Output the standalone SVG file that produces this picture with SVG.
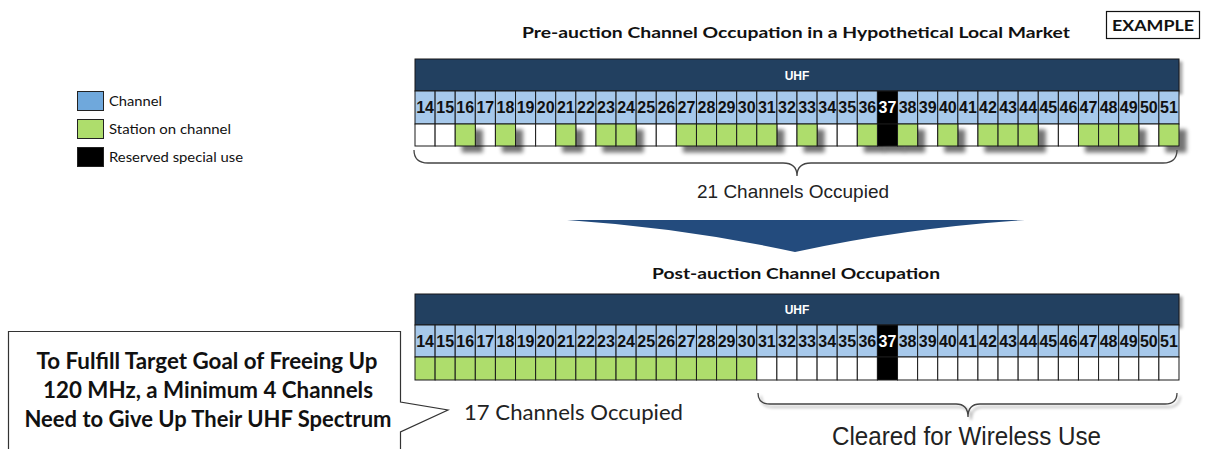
<svg xmlns="http://www.w3.org/2000/svg" width="1205" height="449" viewBox="0 0 1205 449">
<style>
.hdr{fill:#243F60;stroke:#1a1a1a;stroke-width:1}
.num{fill:#A7C9EB;stroke:#1a1a1a;stroke-width:1}
.blk{fill:#000;stroke:#1a1a1a;stroke-width:1}
.wht{fill:#fff;stroke:#1a1a1a;stroke-width:1}
.grn{fill:#AEDD6C;stroke:#1a1a1a;stroke-width:1}
.n{font-family:"Liberation Sans",Arial,sans-serif;font-weight:bold;font-size:16px;fill:#111;text-anchor:middle}
.nw{fill:#fff}
.uhf{font-family:"Liberation Sans",Arial,sans-serif;font-weight:bold;font-size:12px;fill:#fff;text-anchor:middle}
.ttl{font-family:Lato,"Liberation Sans",sans-serif;font-weight:bold;font-size:16px;fill:#111}
.co{font-family:Lato,"Liberation Sans",sans-serif;font-weight:bold;font-size:23px;fill:#111;text-anchor:middle}
.lg{font-family:Lato,"Liberation Sans",sans-serif;font-size:13px;fill:#111}
.brace{fill:none;stroke:#444;stroke-width:1.3}
.cap{font-family:"Liberation Sans",Arial,sans-serif;fill:#222}
.capc{font-family:Lato,"Liberation Sans",sans-serif;fill:#222}
</style>
<defs>
<filter id="sh" x="-50%" y="-50%" width="250%" height="250%">
<feGaussianBlur in="SourceAlpha" stdDeviation="2"/>
<feOffset dx="7" dy="6" result="o"/>
<feComponentTransfer><feFuncA type="linear" slope="0.55"/></feComponentTransfer>
<feMerge><feMergeNode/><feMergeNode in="SourceGraphic"/></feMerge>
</filter>
<filter id="sh2" x="-5%" y="-20%" width="110%" height="160%">
<feGaussianBlur in="SourceAlpha" stdDeviation="1.5"/>
<feOffset dx="3" dy="3"/>
<feComponentTransfer><feFuncA type="linear" slope="0.35"/></feComponentTransfer>
<feMerge><feMergeNode/><feMergeNode in="SourceGraphic"/></feMerge>
</filter>
</defs>
<rect width="1205" height="449" fill="#fff"/>

<g id="example">
<rect x="1106.5" y="11.5" width="93" height="27" fill="#fff" stroke="#111" stroke-width="1.2"/>
<text x="1153" y="31" class="ttl" text-anchor="middle" textLength="82" lengthAdjust="spacingAndGlyphs">EXAMPLE</text>
</g>

<g id="title-pre">
<text x="522" y="38" class="ttl" textLength="548" lengthAdjust="spacingAndGlyphs">Pre-auction Channel Occupation in a Hypothetical Local Market</text>
</g>

<g id="legend">
<rect x="77.5" y="91.5" width="26" height="19" fill="#6FA8DC" stroke="#222"/>
<text x="109" y="106" class="lg" textLength="53" lengthAdjust="spacingAndGlyphs">Channel</text>
<rect x="77.5" y="119.5" width="26" height="19" fill="#AEDD6C" stroke="#222"/>
<text x="109" y="134" class="lg" textLength="122" lengthAdjust="spacingAndGlyphs">Station on channel</text>
<rect x="77.5" y="147.5" width="26" height="19" fill="#000" stroke="#222"/>
<text x="109" y="162" class="lg" textLength="134" lengthAdjust="spacingAndGlyphs">Reserved special use</text>
</g>

<g id="grid-pre">
<rect x="415" y="59" width="764" height="32" class="hdr" filter="url(#sh2)"/>
<text x="797" y="80" class="uhf">UHF</text>
<g>
<rect x="415" y="91" width="20.1" height="33" class="num"/><rect x="435.11" y="91" width="20.1" height="33" class="num"/><rect x="455.21" y="91" width="20.1" height="33" class="num"/><rect x="475.32" y="91" width="20.1" height="33" class="num"/><rect x="495.42" y="91" width="20.1" height="33" class="num"/><rect x="515.53" y="91" width="20.1" height="33" class="num"/><rect x="535.63" y="91" width="20.1" height="33" class="num"/><rect x="555.74" y="91" width="20.1" height="33" class="num"/><rect x="575.84" y="91" width="20.1" height="33" class="num"/><rect x="595.95" y="91" width="20.1" height="33" class="num"/><rect x="616.05" y="91" width="20.1" height="33" class="num"/><rect x="636.16" y="91" width="20.1" height="33" class="num"/><rect x="656.26" y="91" width="20.1" height="33" class="num"/><rect x="676.37" y="91" width="20.1" height="33" class="num"/><rect x="696.47" y="91" width="20.1" height="33" class="num"/><rect x="716.58" y="91" width="20.1" height="33" class="num"/><rect x="736.68" y="91" width="20.1" height="33" class="num"/><rect x="756.79" y="91" width="20.1" height="33" class="num"/><rect x="776.89" y="91" width="20.1" height="33" class="num"/><rect x="797" y="91" width="20.1" height="33" class="num"/><rect x="817.11" y="91" width="20.1" height="33" class="num"/><rect x="837.21" y="91" width="20.1" height="33" class="num"/><rect x="857.32" y="91" width="20.1" height="33" class="num"/><rect x="877.42" y="91" width="20.1" height="33" class="blk"/><rect x="897.53" y="91" width="20.1" height="33" class="num"/><rect x="917.63" y="91" width="20.1" height="33" class="num"/><rect x="937.74" y="91" width="20.1" height="33" class="num"/><rect x="957.84" y="91" width="20.1" height="33" class="num"/><rect x="977.95" y="91" width="20.1" height="33" class="num"/><rect x="998.05" y="91" width="20.1" height="33" class="num"/><rect x="1018.16" y="91" width="20.1" height="33" class="num"/><rect x="1038.26" y="91" width="20.1" height="33" class="num"/><rect x="1058.37" y="91" width="20.1" height="33" class="num"/><rect x="1078.47" y="91" width="20.1" height="33" class="num"/><rect x="1098.58" y="91" width="20.1" height="33" class="num"/><rect x="1118.68" y="91" width="20.1" height="33" class="num"/><rect x="1138.79" y="91" width="20.1" height="33" class="num"/><rect x="1158.89" y="91" width="20.1" height="33" class="num"/>
</g>
<g>
<text x="425.05" y="113" class="n">14</text><text x="445.16" y="113" class="n">15</text><text x="465.26" y="113" class="n">16</text><text x="485.37" y="113" class="n">17</text><text x="505.47" y="113" class="n">18</text><text x="525.58" y="113" class="n">19</text><text x="545.68" y="113" class="n">20</text><text x="565.79" y="113" class="n">21</text><text x="585.89" y="113" class="n">22</text><text x="606" y="113" class="n">23</text><text x="626.1" y="113" class="n">24</text><text x="646.21" y="113" class="n">25</text><text x="666.31" y="113" class="n">26</text><text x="686.42" y="113" class="n">27</text><text x="706.52" y="113" class="n">28</text><text x="726.63" y="113" class="n">29</text><text x="746.73" y="113" class="n">30</text><text x="766.84" y="113" class="n">31</text><text x="786.94" y="113" class="n">32</text><text x="807.05" y="113" class="n">33</text><text x="827.16" y="113" class="n">34</text><text x="847.26" y="113" class="n">35</text><text x="867.37" y="113" class="n">36</text><text x="887.47" y="113" class="n nw">37</text><text x="907.58" y="113" class="n">38</text><text x="927.68" y="113" class="n">39</text><text x="947.79" y="113" class="n">40</text><text x="967.89" y="113" class="n">41</text><text x="988" y="113" class="n">42</text><text x="1008.1" y="113" class="n">43</text><text x="1028.21" y="113" class="n">44</text><text x="1048.31" y="113" class="n">45</text><text x="1068.42" y="113" class="n">46</text><text x="1088.52" y="113" class="n">47</text><text x="1108.63" y="113" class="n">48</text><text x="1128.73" y="113" class="n">49</text><text x="1148.84" y="113" class="n">50</text><text x="1168.94" y="113" class="n">51</text>
</g>
<g>
<rect x="415" y="124" width="20.1" height="22" class="wht"/><rect x="435.11" y="124" width="20.1" height="22" class="wht"/><rect x="475.32" y="124" width="20.1" height="22" class="wht"/><rect x="515.53" y="124" width="20.1" height="22" class="wht"/><rect x="535.63" y="124" width="20.1" height="22" class="wht"/><rect x="575.84" y="124" width="20.1" height="22" class="wht"/><rect x="636.16" y="124" width="20.1" height="22" class="wht"/><rect x="656.26" y="124" width="20.1" height="22" class="wht"/><rect x="776.89" y="124" width="20.1" height="22" class="wht"/><rect x="817.11" y="124" width="20.1" height="22" class="wht"/><rect x="837.21" y="124" width="20.1" height="22" class="wht"/><rect x="917.63" y="124" width="20.1" height="22" class="wht"/><rect x="957.84" y="124" width="20.1" height="22" class="wht"/><rect x="1038.26" y="124" width="20.1" height="22" class="wht"/><rect x="1058.37" y="124" width="20.1" height="22" class="wht"/><rect x="1138.79" y="124" width="20.1" height="22" class="wht"/>
<rect x="877.42" y="124" width="20.1" height="22" class="blk" filter="url(#sh)"/>
</g>
<g filter="url(#sh)">
<rect x="455.21" y="124" width="20.1" height="22" class="grn"/><rect x="495.42" y="124" width="20.1" height="22" class="grn"/><rect x="555.74" y="124" width="20.1" height="22" class="grn"/><rect x="595.95" y="124" width="20.1" height="22" class="grn"/><rect x="616.05" y="124" width="20.1" height="22" class="grn"/><rect x="676.37" y="124" width="20.1" height="22" class="grn"/><rect x="696.47" y="124" width="20.1" height="22" class="grn"/><rect x="716.58" y="124" width="20.1" height="22" class="grn"/><rect x="736.68" y="124" width="20.1" height="22" class="grn"/><rect x="756.79" y="124" width="20.1" height="22" class="grn"/><rect x="797" y="124" width="20.1" height="22" class="grn"/><rect x="857.32" y="124" width="20.1" height="22" class="grn"/><rect x="897.53" y="124" width="20.1" height="22" class="grn"/><rect x="937.74" y="124" width="20.1" height="22" class="grn"/><rect x="977.95" y="124" width="20.1" height="22" class="grn"/><rect x="998.05" y="124" width="20.1" height="22" class="grn"/><rect x="1018.16" y="124" width="20.1" height="22" class="grn"/><rect x="1078.47" y="124" width="20.1" height="22" class="grn"/><rect x="1098.58" y="124" width="20.1" height="22" class="grn"/><rect x="1118.68" y="124" width="20.1" height="22" class="grn"/><rect x="1158.89" y="124" width="20.1" height="22" class="grn"/>
</g>
</g>

<g id="label-pre">
<text x="793" y="198" class="cap" font-size="19" text-anchor="middle" textLength="192" lengthAdjust="spacingAndGlyphs">21 Channels Occupied</text>
</g>

<g id="connectors">
<path class="brace" d="M414,150 Q414,163 428,163 L783,163 Q797,163 797,176 Q797,163 811,163 L1163,163 Q1177,163 1177,150"/>
<path d="M567,220 L1025,220 Q905,228 795,252 Q685,228 567,220 Z" fill="#234B7D"/>
<path class="brace" filter="url(#sh2)" d="M758,393 Q758,404 770,404 L956,404 Q968,404 968,417 Q968,404 980,404 L1165,404 Q1177,404 1177,393"/>
</g>

<g id="title-post">
<text x="652" y="279" class="ttl" textLength="288" lengthAdjust="spacingAndGlyphs">Post-auction Channel Occupation</text>
</g>

<g id="grid-post">
<rect x="415" y="294" width="764" height="31" class="hdr" filter="url(#sh2)"/>
<text x="797" y="314" class="uhf">UHF</text>
<g>
<rect x="415" y="325" width="20.1" height="32" class="num"/><rect x="435.11" y="325" width="20.1" height="32" class="num"/><rect x="455.21" y="325" width="20.1" height="32" class="num"/><rect x="475.32" y="325" width="20.1" height="32" class="num"/><rect x="495.42" y="325" width="20.1" height="32" class="num"/><rect x="515.53" y="325" width="20.1" height="32" class="num"/><rect x="535.63" y="325" width="20.1" height="32" class="num"/><rect x="555.74" y="325" width="20.1" height="32" class="num"/><rect x="575.84" y="325" width="20.1" height="32" class="num"/><rect x="595.95" y="325" width="20.1" height="32" class="num"/><rect x="616.05" y="325" width="20.1" height="32" class="num"/><rect x="636.16" y="325" width="20.1" height="32" class="num"/><rect x="656.26" y="325" width="20.1" height="32" class="num"/><rect x="676.37" y="325" width="20.1" height="32" class="num"/><rect x="696.47" y="325" width="20.1" height="32" class="num"/><rect x="716.58" y="325" width="20.1" height="32" class="num"/><rect x="736.68" y="325" width="20.1" height="32" class="num"/><rect x="756.79" y="325" width="20.1" height="32" class="num"/><rect x="776.89" y="325" width="20.1" height="32" class="num"/><rect x="797" y="325" width="20.1" height="32" class="num"/><rect x="817.11" y="325" width="20.1" height="32" class="num"/><rect x="837.21" y="325" width="20.1" height="32" class="num"/><rect x="857.32" y="325" width="20.1" height="32" class="num"/><rect x="877.42" y="325" width="20.1" height="32" class="blk"/><rect x="897.53" y="325" width="20.1" height="32" class="num"/><rect x="917.63" y="325" width="20.1" height="32" class="num"/><rect x="937.74" y="325" width="20.1" height="32" class="num"/><rect x="957.84" y="325" width="20.1" height="32" class="num"/><rect x="977.95" y="325" width="20.1" height="32" class="num"/><rect x="998.05" y="325" width="20.1" height="32" class="num"/><rect x="1018.16" y="325" width="20.1" height="32" class="num"/><rect x="1038.26" y="325" width="20.1" height="32" class="num"/><rect x="1058.37" y="325" width="20.1" height="32" class="num"/><rect x="1078.47" y="325" width="20.1" height="32" class="num"/><rect x="1098.58" y="325" width="20.1" height="32" class="num"/><rect x="1118.68" y="325" width="20.1" height="32" class="num"/><rect x="1138.79" y="325" width="20.1" height="32" class="num"/><rect x="1158.89" y="325" width="20.1" height="32" class="num"/>
</g>
<g>
<text x="425.05" y="347" class="n">14</text><text x="445.16" y="347" class="n">15</text><text x="465.26" y="347" class="n">16</text><text x="485.37" y="347" class="n">17</text><text x="505.47" y="347" class="n">18</text><text x="525.58" y="347" class="n">19</text><text x="545.68" y="347" class="n">20</text><text x="565.79" y="347" class="n">21</text><text x="585.89" y="347" class="n">22</text><text x="606" y="347" class="n">23</text><text x="626.1" y="347" class="n">24</text><text x="646.21" y="347" class="n">25</text><text x="666.31" y="347" class="n">26</text><text x="686.42" y="347" class="n">27</text><text x="706.52" y="347" class="n">28</text><text x="726.63" y="347" class="n">29</text><text x="746.73" y="347" class="n">30</text><text x="766.84" y="347" class="n">31</text><text x="786.94" y="347" class="n">32</text><text x="807.05" y="347" class="n">33</text><text x="827.16" y="347" class="n">34</text><text x="847.26" y="347" class="n">35</text><text x="867.37" y="347" class="n">36</text><text x="887.47" y="347" class="n nw">37</text><text x="907.58" y="347" class="n">38</text><text x="927.68" y="347" class="n">39</text><text x="947.79" y="347" class="n">40</text><text x="967.89" y="347" class="n">41</text><text x="988" y="347" class="n">42</text><text x="1008.1" y="347" class="n">43</text><text x="1028.21" y="347" class="n">44</text><text x="1048.31" y="347" class="n">45</text><text x="1068.42" y="347" class="n">46</text><text x="1088.52" y="347" class="n">47</text><text x="1108.63" y="347" class="n">48</text><text x="1128.73" y="347" class="n">49</text><text x="1148.84" y="347" class="n">50</text><text x="1168.94" y="347" class="n">51</text>
</g>
<g>
<rect x="415" y="357" width="20.1" height="23" class="grn"/><rect x="435.11" y="357" width="20.1" height="23" class="grn"/><rect x="455.21" y="357" width="20.1" height="23" class="grn"/><rect x="475.32" y="357" width="20.1" height="23" class="grn"/><rect x="495.42" y="357" width="20.1" height="23" class="grn"/><rect x="515.53" y="357" width="20.1" height="23" class="grn"/><rect x="535.63" y="357" width="20.1" height="23" class="grn"/><rect x="555.74" y="357" width="20.1" height="23" class="grn"/><rect x="575.84" y="357" width="20.1" height="23" class="grn"/><rect x="595.95" y="357" width="20.1" height="23" class="grn"/><rect x="616.05" y="357" width="20.1" height="23" class="grn"/><rect x="636.16" y="357" width="20.1" height="23" class="grn"/><rect x="656.26" y="357" width="20.1" height="23" class="grn"/><rect x="676.37" y="357" width="20.1" height="23" class="grn"/><rect x="696.47" y="357" width="20.1" height="23" class="grn"/><rect x="716.58" y="357" width="20.1" height="23" class="grn"/><rect x="736.68" y="357" width="20.1" height="23" class="grn"/>
<rect x="756.79" y="357" width="20.1" height="23" class="wht"/><rect x="776.89" y="357" width="20.1" height="23" class="wht"/><rect x="797" y="357" width="20.1" height="23" class="wht"/><rect x="817.11" y="357" width="20.1" height="23" class="wht"/><rect x="837.21" y="357" width="20.1" height="23" class="wht"/><rect x="857.32" y="357" width="20.1" height="23" class="wht"/><rect x="877.42" y="357" width="20.1" height="23" class="blk"/><rect x="897.53" y="357" width="20.1" height="23" class="wht"/><rect x="917.63" y="357" width="20.1" height="23" class="wht"/><rect x="937.74" y="357" width="20.1" height="23" class="wht"/><rect x="957.84" y="357" width="20.1" height="23" class="wht"/><rect x="977.95" y="357" width="20.1" height="23" class="wht"/><rect x="998.05" y="357" width="20.1" height="23" class="wht"/><rect x="1018.16" y="357" width="20.1" height="23" class="wht"/><rect x="1038.26" y="357" width="20.1" height="23" class="wht"/><rect x="1058.37" y="357" width="20.1" height="23" class="wht"/><rect x="1078.47" y="357" width="20.1" height="23" class="wht"/><rect x="1098.58" y="357" width="20.1" height="23" class="wht"/><rect x="1118.68" y="357" width="20.1" height="23" class="wht"/><rect x="1138.79" y="357" width="20.1" height="23" class="wht"/><rect x="1158.89" y="357" width="20.1" height="23" class="wht"/>
</g>
</g>

<g id="callout">
<path d="M8.5,452 L8.5,331.5 L400.5,331.5 L400.5,402 L448,410 L400.5,432 L400.5,452" fill="#fff" stroke="#333" stroke-width="1.2"/>
<text x="207" y="369" class="co" textLength="341" lengthAdjust="spacingAndGlyphs">To Fulfill Target Goal of Freeing Up</text>
<text x="208" y="398" class="co" textLength="330" lengthAdjust="spacingAndGlyphs">120 MHz, a Minimum 4 Channels</text>
<text x="208" y="427" class="co" textLength="367" lengthAdjust="spacingAndGlyphs">Need to Give Up Their UHF Spectrum</text>
</g>

<g id="label-post">
<text x="464" y="420" class="capc" font-size="21" textLength="219" lengthAdjust="spacingAndGlyphs">17 Channels Occupied</text>
<text x="832" y="445" class="cap" font-size="25" textLength="269" lengthAdjust="spacingAndGlyphs">Cleared for Wireless Use</text>
</g>
</svg>
